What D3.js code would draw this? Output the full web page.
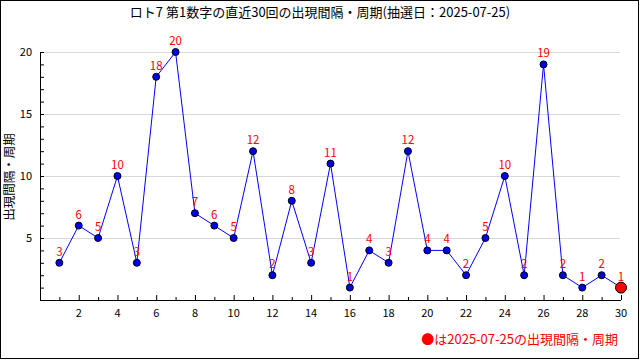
<!DOCTYPE html>
<html><head><meta charset="utf-8">
<script src="https://cdn.jsdelivr.net/npm/d3@7"></script>
<style>body{margin:0;background:#fff}svg{display:block}text{font-family:"Noto Sans CJK JP",sans-serif}</style>
</head><body><svg id="c" width="640" height="360"></svg>
<script>
const draws = d3.range(1, 31);
const intervals = [3,6,5,10,3,18,20,7,6,5,12,2,8,3,11,1,4,3,12,4,4,2,5,10,2,19,2,1,2,1];
const xTickLabels = [2,4,6,8,10,12,14,16,18,20,22,24,26,28,30];
const yTickLabels = [5,10,15,20];
const title = "ロト7 第1数字の直近30回の出現間隔・周期(抽選日：2025-07-25)";
const yTitle = "出現間隔・周期";
const legendText = "●は2025-07-25の出現間隔・周期";

const svg = d3.select("#c");
const L = 40, R = 621, T = 52, B = 300;
const x = d3.scaleLinear().domain([0, 30]).range([L, R]);
const y = d3.scaleLinear().domain([0, 20]).range([B, T]);

svg.append("rect").attr("x",0.5).attr("y",0.5).attr("width",638).attr("height",358)
  .attr("fill","#fff").attr("stroke","#000");

// grid
svg.append("g").selectAll("line").data(yTickLabels).join("line")
  .attr("x1", L).attr("x2", 620).attr("y1", d=>Math.round(y(d))+0.5).attr("y2", d=>Math.round(y(d))+0.5)
  .attr("stroke","#d8d8d8");

// axes with inward ticks
const xAxis = d3.axisTop(x).tickValues(d3.range(1,31)).tickSize(4).tickFormat("");
const gx = svg.append("g").attr("transform",`translate(0,${B})`).call(xAxis);
gx.selectAll(".tick line").attr("y2", d => d%2===0 ? -5 : -3);
gx.select(".domain").attr("d", `M${L},0.5H${R}`).attr("stroke","#000");
svg.append("g").selectAll("text").data(xTickLabels).join("text")
  .attr("x", d=>x(d)).attr("y", 317).attr("text-anchor","middle").attr("font-size",11).text(d=>d);

const yAxis = d3.axisRight(y).tickValues(d3.range(1,21)).tickSize(4).tickFormat("");
const gy = svg.append("g").attr("transform",`translate(${L},0)`).call(yAxis);
gy.select(".domain").attr("d", `M0.5,${T}V${B}`).attr("stroke","#000");
svg.append("g").selectAll("text").data(yTickLabels).join("text")
  .attr("x", 32).attr("y", d=>y(d)+4).attr("text-anchor","end").attr("font-size",11).text(d=>d);

// title
svg.append("text").attr("x", 320).attr("y", 17).attr("text-anchor","middle").attr("font-size",13).text(title);
svg.append("text").attr("transform","translate(14,177) rotate(-90)").attr("text-anchor","middle")
  .attr("font-size",12.5).text(yTitle);

const data = draws.map((d,i)=>({d, v: intervals[i]}));
svg.append("path").datum(data).attr("fill","none").attr("stroke","#0000ff").attr("stroke-width",1)
  .attr("d", d3.line().x(p=>x(p.d)).y(p=>y(p.v)));

svg.append("g").selectAll("circle").data(data).join("circle")
  .attr("cx", p=>x(p.d)).attr("cy", p=>y(p.v))
  .attr("r", (p,i)=> i===data.length-1 ? 5.5 : 3.5)
  .attr("fill", (p,i)=> i===data.length-1 ? "#ff0000" : "#0000ee")
  .attr("stroke","#000").attr("stroke-width",1);

svg.append("g").selectAll("text").data(data).join("text")
  .attr("x", p=>x(p.d)).attr("y", p=>y(p.v)-7).attr("text-anchor","middle")
  .attr("font-size",11.5).attr("fill","#ff0000").text(p=>p.v);

svg.append("text").attr("x", 618).attr("y", 344).attr("text-anchor","end")
  .attr("font-size",13).attr("fill","#ff0000").text(legendText);
</script></body></html>
